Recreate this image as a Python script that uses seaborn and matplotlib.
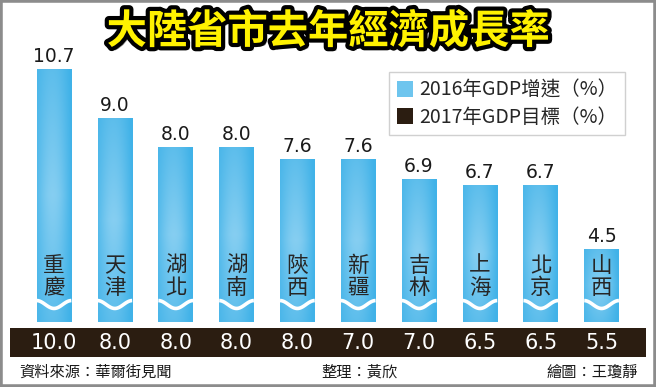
import matplotlib as mpl
import matplotlib.pyplot as plt
import matplotlib.patheffects as pe
import matplotlib.transforms as mtransforms
from matplotlib.colors import to_rgb
from matplotlib.patches import Patch, Rectangle
import numpy as np
import pandas as pd
import seaborn as sns

# Chart data.
provinces = ["重慶", "天津", "湖北", "湖南", "陝西", "新疆", "吉林", "上海", "北京", "山西"]
gdp_2016 = [10.7, 9.0, 8.0, 8.0, 7.6, 7.6, 6.9, 6.7, 6.7, 4.5]
gdp_2017 = [10.0, 8.0, 8.0, 8.0, 8.0, 7.0, 7.0, 6.5, 6.5, 5.5]

title = "大陸省市去年經濟成長率"
legend_labels = ["2016年GDP增速（%）", "2017年GDP目標（%）"]
source_text = "資料來源：華爾街見聞"
editor_text = "整理：黃欣"
artist_text = "繪圖：王瓊靜"

blue = "#40b2e8"
light_blue = "#a3daf5"
dark_band = "#2b1d11"

sns.set_style("white")
plt.rcParams['font.family'] = ['Noto Sans CJK TC', 'DejaVu Sans']

df = pd.DataFrame({"province": provinces, "gdp_2016": gdp_2016})

W, H = 656, 387
fig = plt.figure(figsize=(W / 100, H / 100), dpi=100)
fig.patch.set_facecolor("white")

# Main axes: bars are cut at the bottom (broken axis look).
ax = fig.add_axes([23.6 / W, (H - 322) / H, 608.4 / W, 282 / H])
sns.barplot(data=df, x="province", y="gdp_2016", color=blue, width=0.57,
            saturation=1, ax=ax)
ax.set_xlim(-0.5, len(provinces) - 0.5)
ax.set_ylim(1.966, 11.69)
ax.axis("off")

# Gradient fill clipped to each bar.
gx = np.linspace(0, 1, 60)
gy = np.linspace(0, 1, 120)
U, V = np.meshgrid(gx, gy)
t = np.clip(0.75 * np.sin(np.pi * (0.15 + 0.75 * U)) ** 1.5 * (1 - 0.55 * np.abs(V - 0.5) * 2) - 0.1 * U, 0, 1)
c0, c1 = np.array(to_rgb(blue)), np.array(to_rgb(light_blue))
grad = c0 * (1 - t[..., None]) + c1 * t[..., None]

y0 = ax.get_ylim()[0]
for bar in ax.patches:
    x0, w, h = bar.get_x(), bar.get_width(), bar.get_height()
    im = ax.imshow(grad, extent=[x0, x0 + w, y0, h], origin="lower",
                   aspect="auto", zorder=bar.get_zorder() + 0.1)
    im.set_clip_path(bar)

ax.set_xlim(-0.5, len(provinces) - 0.5)
ax.set_ylim(1.966, 11.69)

# Value labels on top of bars.
ax.bar_label(ax.containers[0], fmt="%.1f", padding=2, fontsize=13.5,
             color="#1a1a1a", family=['Liberation Sans Narrow', 'DejaVu Sans'])

# Province names inside bars, wave near the bottom.
trans = mtransforms.blended_transform_factory(ax.transData, ax.transAxes)
for i, bar in enumerate(ax.patches):
    x0, w = bar.get_x(), bar.get_width()
    ax.text(x0 + w / 2, 0.16, "\n".join(provinces[i]), transform=trans,
            ha="center", va="center", fontsize=15.5, color="#262626",
            linespacing=1.0, zorder=5)
    wx = np.linspace(x0, x0 + w, 40)
    wy = 0.062 + 0.014 * np.cos(np.linspace(0.0, 2.0 * np.pi, 40))
    ax.plot(wx, wy, transform=trans, color="white", lw=2.6, zorder=5,
            solid_capstyle="butt")

# Dark band with 2017 targets (behind the axes so the labels stay on top).
fig.patches.append(Rectangle((10 / W, (H - 357) / H), 636 / W, 29 / H,
                             transform=fig.transFigure, facecolor=dark_band,
                             edgecolor="none", zorder=-1))
band_trans = mtransforms.blended_transform_factory(ax.transData, fig.transFigure)
for i, v in enumerate(gdp_2017):
    ax.text(i, (H - 343) / H, f"{v:.1f}", transform=band_trans, ha="center",
            va="center", fontsize=15, color="white", clip_on=False,
            family=['Liberation Sans Narrow', 'DejaVu Sans'])

# Legend.
handles = [Patch(facecolor="#6ec5ee", edgecolor="none"),
           Patch(facecolor=dark_band, edgecolor="none")]
leg = ax.legend(handles, legend_labels, loc="upper right",
                bbox_to_anchor=(625 / W, 1 - 72 / H), bbox_transform=fig.transFigure,
                borderaxespad=0, fontsize=14, frameon=True, fancybox=False,
                handlelength=0.85, handleheight=0.85, handletextpad=0.3,
                labelspacing=0.3, borderpad=0.4, edgecolor="#d0d0d0",
                facecolor="white", framealpha=1)
leg.get_frame().set_linewidth(1.0)

# Title with outline and shadow.
fig.text(328 / W, 1 - 32 / H, title, ha="center", va="center", fontsize=29,
         fontweight="heavy", color="#fff200",
         path_effects=[pe.withSimplePatchShadow(offset=(2.5, -2.5), shadow_rgbFace="#777777", alpha=0.8),
                       pe.Stroke(linewidth=6, foreground="black"), pe.Normal()])

# Footer.
fig.text(19 / W, 1 - 372 / H, source_text, ha="left", va="center", fontsize=11, color="#1a1a1a")
fig.text(360 / W, 1 - 372 / H, editor_text, ha="center", va="center", fontsize=11, color="#1a1a1a")
fig.text(638 / W, 1 - 372 / H, artist_text, ha="right", va="center", fontsize=11, color="#1a1a1a")

# Outer frame.
fig.patches.append(Rectangle((0, 0), 1, 1, transform=fig.transFigure, fill=False,
                             edgecolor="#8c8c8c", linewidth=4, zorder=10))

fig.savefig("out.png", dpi=100)
